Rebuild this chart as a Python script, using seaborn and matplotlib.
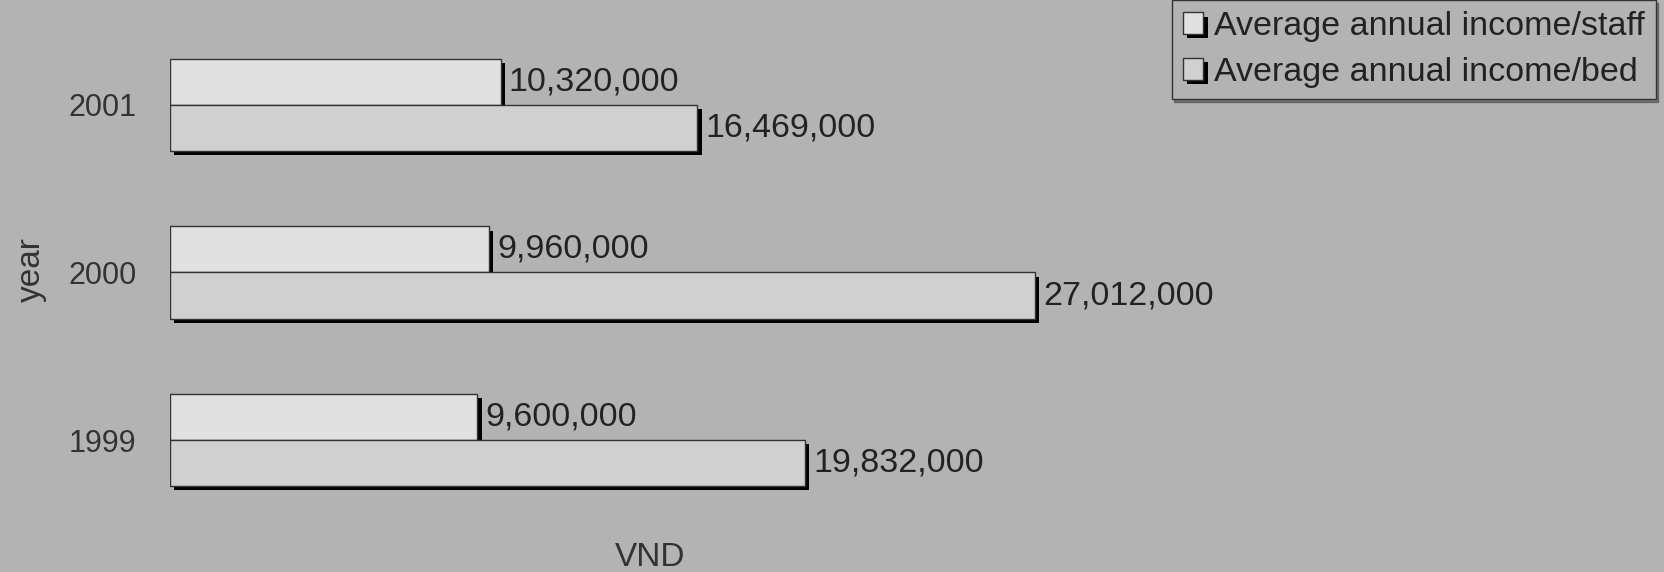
import pandas as pd
import matplotlib
matplotlib.use("Agg")
import matplotlib.pyplot as plt
import matplotlib.patheffects as pe
import seaborn as sns

sns.set_theme(style="white")
plt.rcParams['font.family'] = ['Liberation Sans', 'DejaVu Sans']

# data
years = ['2001', '2000', '1999']
income_staff = [10320000, 9960000, 9600000]
income_bed = [16469000, 27012000, 19832000]
series_names = ['Average annual income/staff', 'Average annual income/bed']

df = pd.DataFrame({
    'year': years * 2,
    'VND': income_staff + income_bed,
    'series': [series_names[0]] * 3 + [series_names[1]] * 3,
})

bg = '#b3b3b3'
fig = plt.figure(figsize=(16.64, 5.72), dpi=100, facecolor=bg)
ax = fig.add_axes([170 / 1664, 42 / 572, 1470 / 1664, 510 / 572])
ax.set_facecolor(bg)

sns.barplot(data=df, y='year', x='VND', hue='series', order=years,
            hue_order=series_names, orient='h', width=0.55,
            palette=['#e0e0e0', '#d0d0d0'], edgecolor='#333333', linewidth=1,
            ax=ax)

# scanned chart has a hard black drop shadow on every bar
shadow = [pe.SimplePatchShadow(offset=(3, -3), shadow_rgbFace='black', alpha=1), pe.Normal()]
for bar in ax.patches:
    bar.set_path_effects(shadow)

for cont in ax.containers:
    ax.bar_label(cont, labels=[f"{v:,.0f}" for v in cont.datavalues],
                 padding=6, fontsize=24.5, color='#222222')

ax.set_xlim(0, 45.9e6)
ax.set_ylim(2.537, -0.507)
ax.set_xticks([])
ax.tick_params(axis='y', length=0, pad=24, labelsize=22, labelcolor='#333333')
for s in ax.spines.values():
    s.set_visible(False)

ax.set_xlabel('VND', fontsize=24, color='#333333')
ax.xaxis.set_label_coords(0.3265, -0.024)
ax.set_ylabel('year', fontsize=24, color='#333333')
ax.yaxis.set_label_coords(-0.084, 0.51)

leg = ax.legend(loc='upper right', bbox_to_anchor=(0.995, 1.0), bbox_transform=fig.transFigure,
                fontsize=24.5, frameon=True, fancybox=False, shadow=True,
                handlelength=0.6, handleheight=0.6, handletextpad=0.3,
                borderpad=0.33, labelspacing=0.43, borderaxespad=0)
leg.get_frame().set_facecolor(bg)
leg.get_frame().set_edgecolor('#333333')
for t in leg.get_texts():
    t.set_color('#222222')

fig.savefig('out.png', dpi=100, facecolor=bg)
